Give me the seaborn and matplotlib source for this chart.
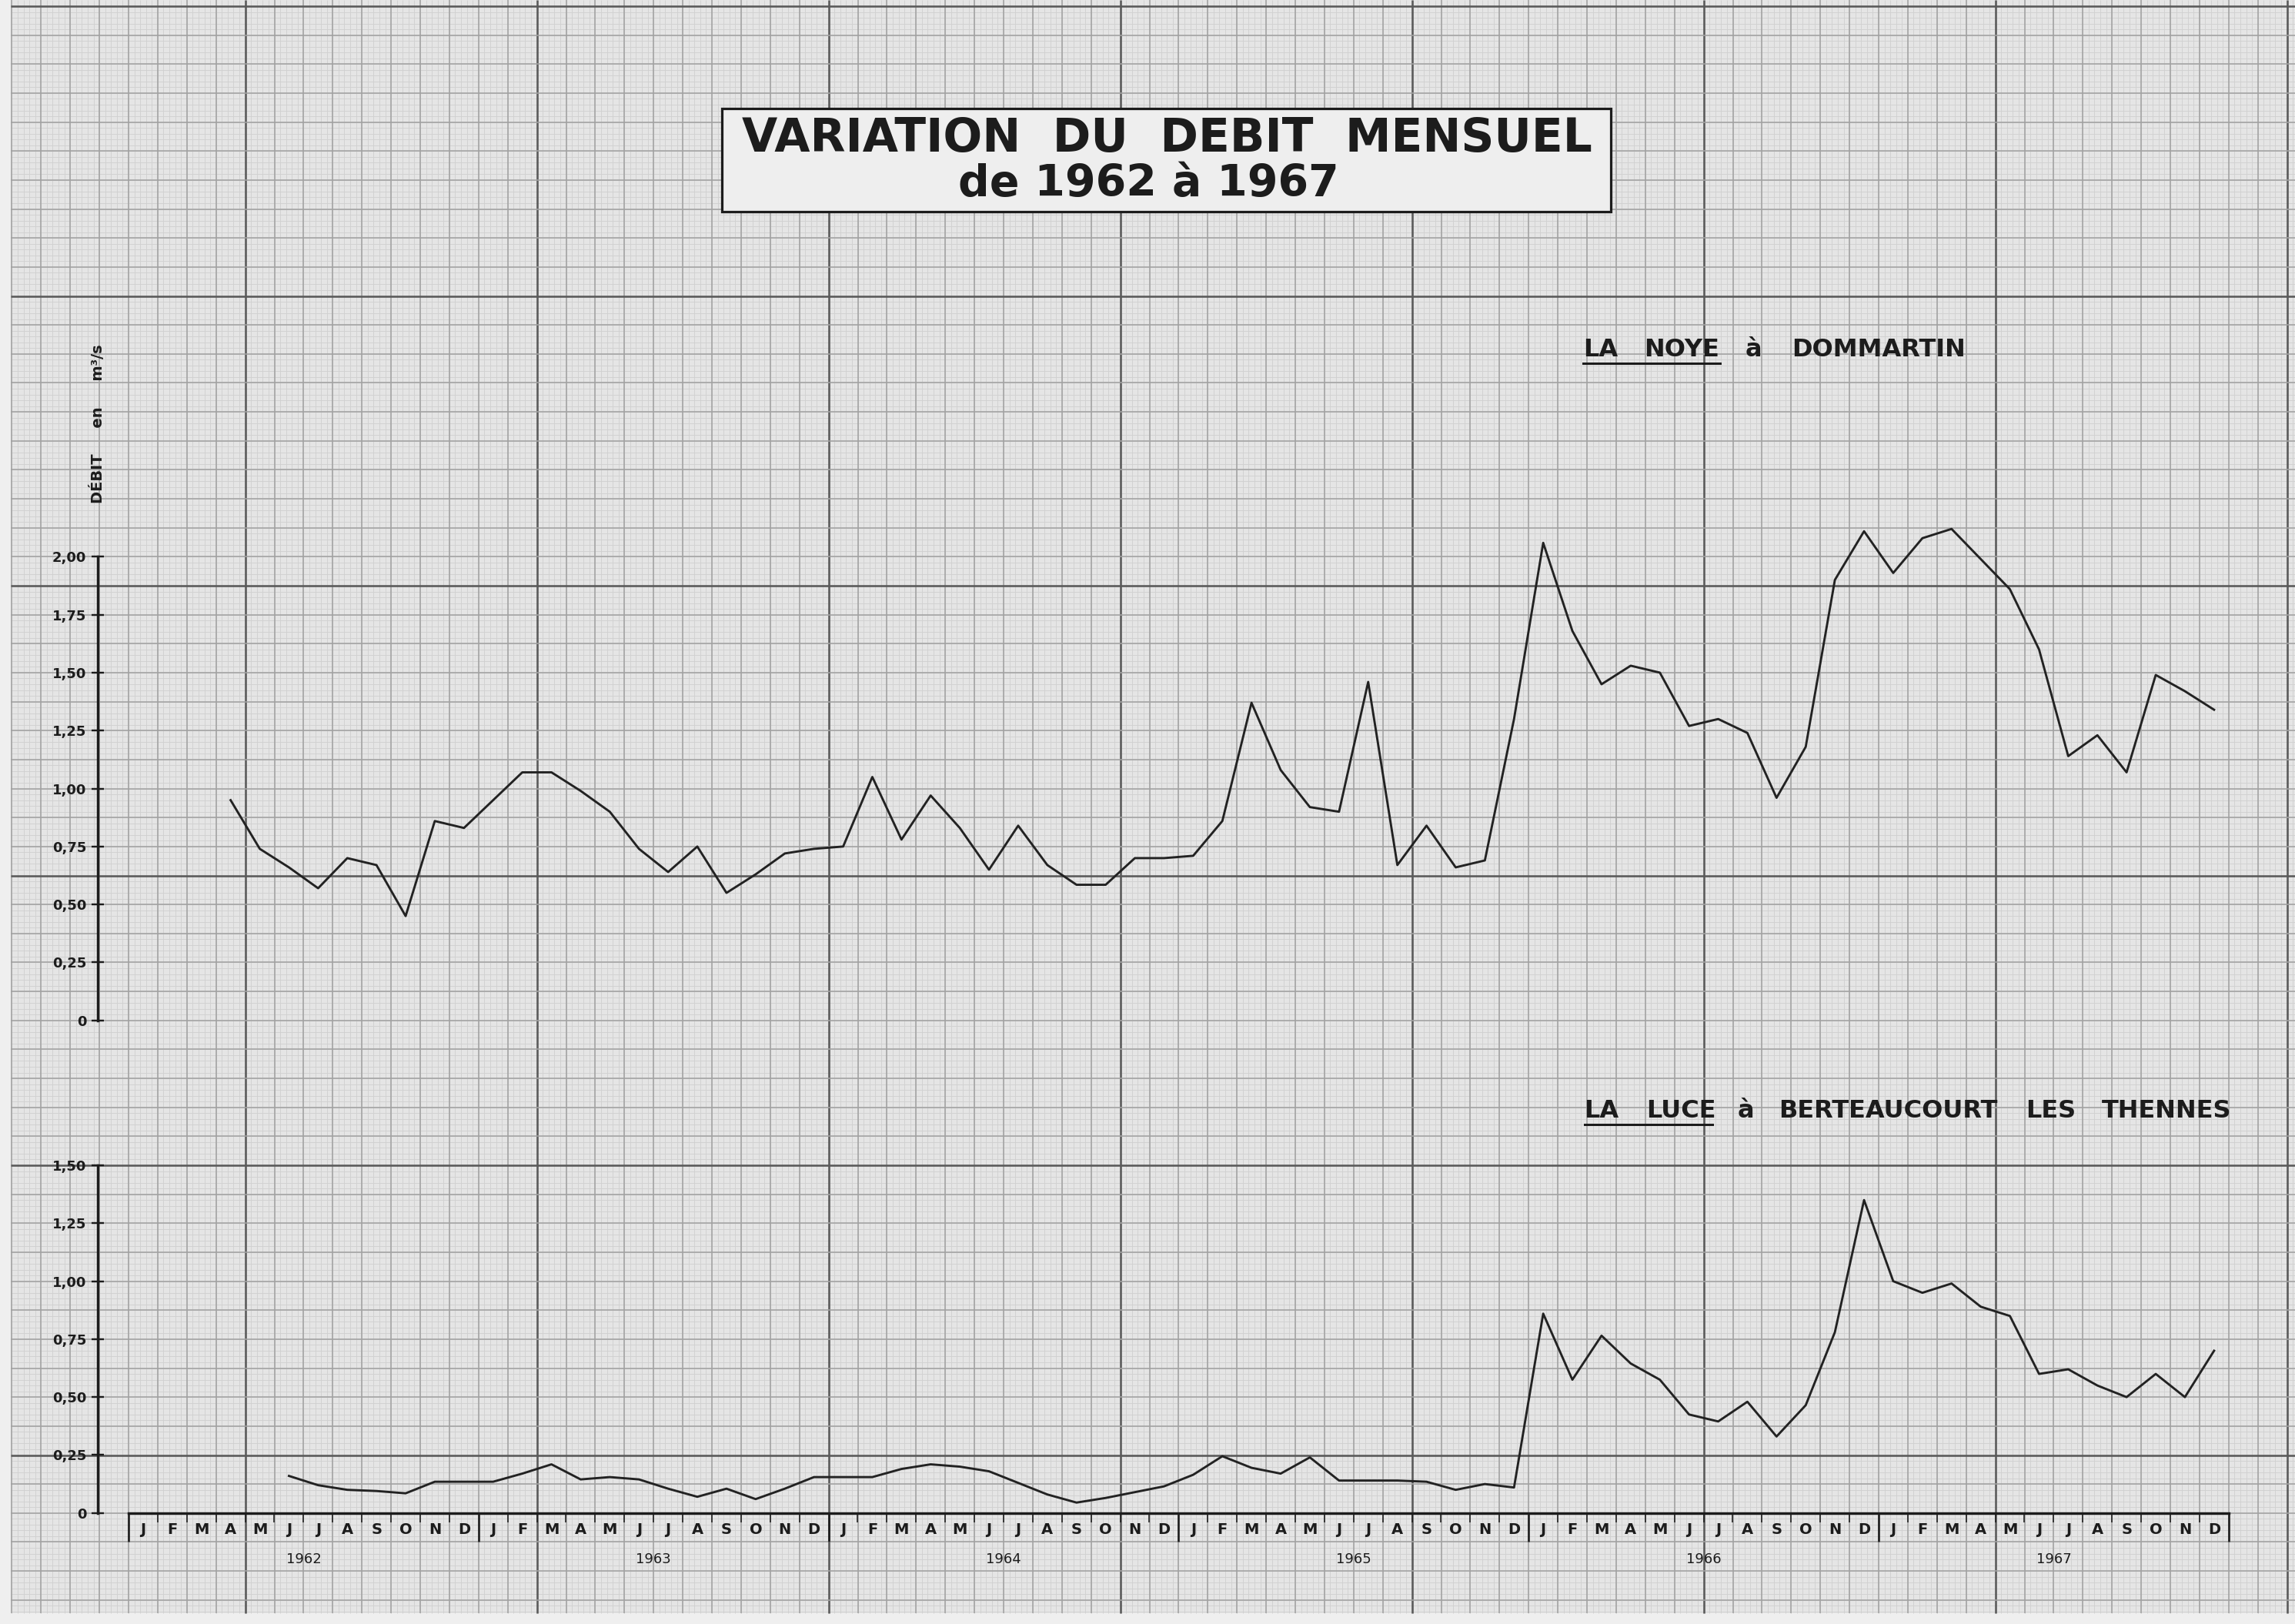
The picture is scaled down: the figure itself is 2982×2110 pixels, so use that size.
import numpy as np
import pandas as pd
import matplotlib
matplotlib.use("Agg")
import matplotlib.pyplot as plt
from matplotlib.patches import Rectangle
import seaborn as sns

# month index 0 = janvier 1962, values in m3/s
noye_start = 3  # avril 1962
noye_1962 = [0.95, 0.74, 0.66, 0.57, 0.70, 0.67, 0.45, 0.86, 0.83]
noye_1963 = [0.95, 1.07, 1.07, 0.99, 0.90, 0.74, 0.64, 0.75, 0.55, 0.63, 0.72, 0.74]
noye_1964 = [0.75, 1.05, 0.78, 0.97, 0.83, 0.65, 0.84, 0.67, 0.585, 0.585, 0.70, 0.70]
noye_1965 = [0.71, 0.86, 1.37, 1.08, 0.92, 0.90, 1.46, 0.67, 0.84, 0.66, 0.69, 1.30]
noye_1966 = [2.06, 1.68, 1.45, 1.53, 1.50, 1.27, 1.30, 1.24, 0.96, 1.18, 1.90, 2.11]
noye_1967 = [1.93, 2.08, 2.12, 1.99, 1.86, 1.60, 1.14, 1.23, 1.07, 1.49, 1.42, 1.34]

luce_start = 5  # juin 1962
luce_1962 = [0.16, 0.12, 0.10, 0.095, 0.085, 0.135, 0.135]
luce_1963 = [0.135, 0.17, 0.21, 0.145, 0.155, 0.145, 0.105, 0.07, 0.105, 0.06, 0.105, 0.155]
luce_1964 = [0.155, 0.155, 0.19, 0.21, 0.20, 0.18, 0.13, 0.08, 0.045, 0.065, 0.09, 0.115]
luce_1965 = [0.165, 0.245, 0.195, 0.17, 0.24, 0.14, 0.14, 0.14, 0.135, 0.10, 0.125, 0.11]
luce_1966 = [0.86, 0.575, 0.765, 0.645, 0.575, 0.425, 0.395, 0.48, 0.33, 0.465, 0.78, 1.35]
luce_1967 = [1.00, 0.95, 0.99, 0.89, 0.85, 0.60, 0.62, 0.55, 0.50, 0.60, 0.50, 0.70]

years = ["1962", "1963", "1964", "1965", "1966", "1967"]
month_letters = ["J", "F", "M", "A", "M", "J", "J", "A", "S", "O", "N", "D"]
noye_ticks = [0, 0.25, 0.5, 0.75, 1.0, 1.25, 1.5, 1.75, 2.0]
luce_ticks = [0, 0.25, 0.5, 0.75, 1.0, 1.25, 1.5]


def fr_label(v):
    return "0" if v == 0 else f"{v:.2f}".replace(".", ",")


noye = noye_1962 + noye_1963 + noye_1964 + noye_1965 + noye_1966 + noye_1967
luce = luce_1962 + luce_1963 + luce_1964 + luce_1965 + luce_1966 + luce_1967
df_noye = pd.DataFrame({"mois": np.arange(len(noye)) + noye_start + 0.5, "debit": noye})
df_luce = pd.DataFrame({"mois": np.arange(len(luce)) + luce_start + 0.5, "debit": luce})

# page geometry (pixels)
W, H = 2982, 2110
X0, MONTH = 167.0, 37.9          # left edge of janvier 1962, width of one month
Y0, CELL = 8.0, 37.65            # first bold horizontal line, paper cell
PX_PER_UNIT = CELL * 8           # 0.125 m3/s per cell
TOP_ZERO = Y0 + 35 * CELL
BOT_ZERO = Y0 + 52 * CELL
PAPER_BOTTOM = 2096

PAPER = "#e5e5e5"
FINE = "#d0d0d0"
MID = "#a2a2a2"
BOLD = "#5a5a5a"
INK = "#1c1c1c"
PT = 0.72  # points per pixel at dpi 100

fig = plt.figure(figsize=(W / 100, H / 100), dpi=100, facecolor="#efefef")

# graph paper background
bg = fig.add_axes([0, 0, 1, 1], zorder=0)
bg.set_xlim(0, W)
bg.set_ylim(H, 0)
bg.axis("off")
bg.add_patch(Rectangle((14, 0), W - 14, PAPER_BOTTOM, fc=PAPER, ec="none"))

kx = np.arange(-20, 400)
fine_x = X0 + kx * MONTH / 5
fine_x = fine_x[(fine_x > 14) & (fine_x < W)]
ky = np.arange(0, 300)
fine_y = Y0 + ky * CELL / 5
fine_y = fine_y[fine_y < PAPER_BOTTOM]
bg.vlines(fine_x, 0, PAPER_BOTTOM, colors=FINE, lw=0.9 * PT)
bg.hlines(fine_y, 14, W, colors=FINE, lw=0.9 * PT)

kc = np.arange(-4, 80)
cell_x = X0 + kc * MONTH
keep = (cell_x > 14) & (cell_x < W)
cell_x, kc = cell_x[keep], kc[keep]
bold_x = (kc - 4) % 10 == 0
bg.vlines(cell_x[~bold_x], 0, PAPER_BOTTOM, colors=MID, lw=1.6 * PT)
bg.vlines(cell_x[bold_x], 0, PAPER_BOTTOM, colors=BOLD, lw=2.6 * PT)

kr = np.arange(0, 60)
cell_y = Y0 + kr * CELL
keep = cell_y < PAPER_BOTTOM
cell_y, kr = cell_y[keep], kr[keep]
bold_y = kr % 10 == 0
bg.hlines(cell_y[~bold_y], 14, W, colors=MID, lw=1.6 * PT)
bg.hlines(cell_y[bold_y], 14, W, colors=BOLD, lw=2.6 * PT)

# title box
bg.add_patch(Rectangle((938, 141), 1155, 134, fc="#eeeeee", ec=INK, lw=3.2 * PT, zorder=3))
bg.text(1516, 180, "VARIATION  DU  DEBIT  MENSUEL", ha="center", va="center",
        fontsize=43, fontweight="bold", color=INK, zorder=4)
bg.text(1492, 240, "de 1962 à 1967", ha="center", va="center",
        fontsize=41, fontweight="bold", color=INK, zorder=4)

# river names, word by word as lettered
noye_words = [("LA", 2057), ("NOYE", 2136), ("à", 2268), ("DOMMARTIN", 2328)]
luce_words = [("LA", 2058), ("LUCE", 2139), ("à", 2258), ("BERTEAUCOURT", 2311),
              ("LES", 2632), ("THENNES", 2731)]
for words, base, uline in [(noye_words, 463, (2057, 2235, 472)),
                           (luce_words, 1452, (2059, 2225, 1461))]:
    for w, x in words:
        bg.text(x, base, w, ha="left", va="baseline", fontsize=23, fontweight="bold",
                color=INK, zorder=4)
    bg.plot([uline[0], uline[1]], [uline[2], uline[2]], color=INK, lw=3 * PT, zorder=4)

bg.text(127, 551, "DÉBIT     en     m³/s", rotation=90, ha="center", va="center",
        fontsize=14, fontweight="bold", color=INK, zorder=4)

# data axes
left = X0 / W
width = 72 * MONTH / W
top_max = 2.25
ax_top = fig.add_axes([left, 1 - TOP_ZERO / H, width, top_max * PX_PER_UNIT / H], zorder=2)
bot_max = 1.5
ax_bot = fig.add_axes([left, 1 - BOT_ZERO / H, width, bot_max * PX_PER_UNIT / H], zorder=2)

for ax, df, ticks, ymax in [(ax_top, df_noye, noye_ticks, top_max),
                            (ax_bot, df_luce, luce_ticks, bot_max)]:
    sns.lineplot(data=df, x="mois", y="debit", ax=ax, color="#222222", lw=2.9 * PT,
                 estimator=None)
    ax.patch.set_alpha(0)
    ax.set_xlim(0, 72)
    ax.set_ylim(0, ymax)
    ax.set_xlabel("")
    ax.set_ylabel("")
    for s in ["top", "right", "bottom"]:
        ax.spines[s].set_visible(False)
    ax.spines["left"].set_position(("outward", 28.5))
    ax.spines["left"].set_bounds(0, ticks[-1])
    ax.spines["left"].set_linewidth(3.4 * PT)
    ax.spines["left"].set_color(INK)
    ax.set_yticks(ticks)
    ax.set_yticklabels([fr_label(t) for t in ticks], fontweight="bold")
    ax.tick_params(axis="y", direction="inout", length=16 * PT, width=2.4 * PT,
                   color=INK, labelsize=13, labelcolor=INK, pad=5)
    ax.grid(False)

ax_top.set_xticks([])

# month strip under the bottom chart
ax_bot.spines["bottom"].set_visible(True)
ax_bot.spines["bottom"].set_linewidth(3.4 * PT)
ax_bot.spines["bottom"].set_color(INK)
ax_bot.set_xticks(np.arange(0, 73, 12))
ax_bot.set_xticks(np.arange(0, 73), minor=True)
ax_bot.set_xticklabels([])
ax_bot.tick_params(axis="x", which="major", direction="out", length=37 * PT,
                   width=2.6 * PT, color=INK)
ax_bot.tick_params(axis="x", which="minor", direction="out", length=12 * PT,
                   width=1.6 * PT, color=INK)

sec_m = ax_bot.secondary_xaxis("bottom")
sec_m.set_xticks(np.arange(72) + 0.5)
sec_m.set_xticklabels(month_letters * len(years), fontweight="bold")
sec_m.tick_params(length=0, pad=9, labelsize=14, labelcolor=INK)
sec_m.spines["bottom"].set_visible(False)

sec_y = ax_bot.secondary_xaxis("bottom")
sec_y.set_xticks(np.arange(6, 72, 12))
sec_y.set_xticklabels(years)
sec_y.tick_params(length=0, pad=37, labelsize=13, labelcolor=INK)
sec_y.spines["bottom"].set_visible(False)

fig.savefig("out.png", dpi=100, facecolor=fig.get_facecolor())
